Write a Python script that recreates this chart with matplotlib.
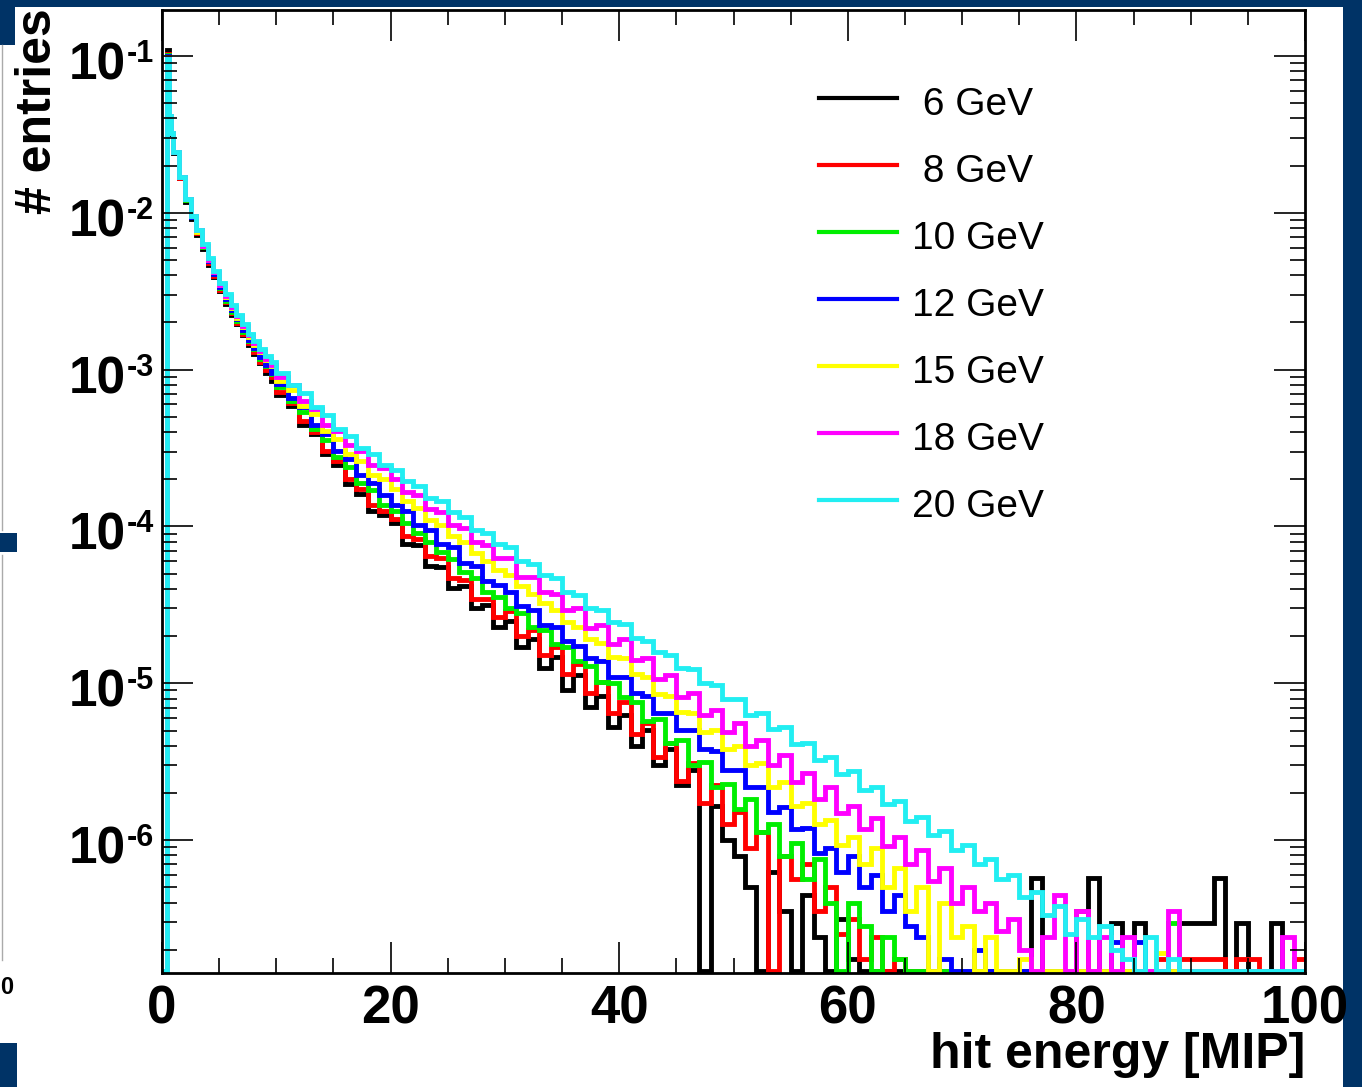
import numpy as np
import matplotlib
matplotlib.use("Agg")
import matplotlib.pyplot as plt
from matplotlib.ticker import LogLocator, MultipleLocator, NullFormatter
from matplotlib.patches import Rectangle

plt.rcParams['font.family'] = ['Liberation Sans', 'DejaVu Sans']

# bin edges (MIP): fine at the start, 1 MIP from 10 on
edges = np.concatenate([[0.0, 0.4, 0.6, 0.8], np.arange(1.0, 10.0, 0.5), np.arange(10.0, 100.5, 1.0)])

labels = [" 6 GeV", " 8 GeV", "10 GeV", "12 GeV", "15 GeV", "18 GeV", "20 GeV"]
colors = ["#000000", "#ff0000", "#00ee00", "#0000ff", "#ffff00", "#ff00ff", "#22eef2"]

# log10(entries) per bin, None = empty bin
log_6gev = [
    None, -0.965, -1.39, -1.50, -1.62, -1.78, -1.93, -2.04, -2.14, -2.23,
    -2.33, -2.41, -2.50, -2.58, -2.65, -2.71, -2.78, -2.84, -2.90, -2.96, -3.02, -3.07,
    -3.16, -3.23, -3.35, -3.41, -3.54, -3.61, -3.73, -3.79, -3.90, -3.93,
    -3.98, -4.11, -4.12, -4.25, -4.26, -4.39, -4.38, -4.52, -4.50, -4.64,
    -4.60, -4.77, -4.72, -4.90, -4.83, -5.04, -4.95, -5.15, -5.08, -5.28,
    -5.20, -5.40, -5.30, -5.52, -5.42, -5.65, -5.55, None, -5.78, -6.00,
    -6.10, -6.30, None, -6.20, -6.45, None, -6.35, -6.62, None, -6.50,
    -6.76, None, None, None, None, None, None, None, None, None,
    None, None, None, None, None, None, -6.24, None, None, None,
    None, -6.24, None, -6.53, None, -6.53, None, None, None, -6.53,
    -6.53, -6.53, -6.24, None, -6.53, None, None, -6.53, None, None,
]
log_8gev = [
    None, -0.985, -1.38, -1.49, -1.61, -1.78, -1.92, -2.03, -2.13, -2.22,
    -2.32, -2.40, -2.49, -2.57, -2.64, -2.70, -2.77, -2.83, -2.89, -2.95, -3.00, -3.05,
    -3.14, -3.21, -3.33, -3.40, -3.52, -3.58, -3.70, -3.76, -3.86, -3.90,
    -3.95, -4.06, -4.08, -4.19, -4.20, -4.33, -4.34, -4.46, -4.46, -4.58,
    -4.54, -4.70, -4.66, -4.82, -4.77, -4.94, -4.88, -5.06, -4.99, -5.19,
    -5.12, -5.32, -5.25, -5.47, -5.38, -5.62, -5.51, -5.76, -5.65, -5.90,
    -5.82, -6.05, -5.95, None, -6.10, -6.25, -6.15, -6.45, -6.30, -6.60,
    -6.50, -6.76, -6.62, None, -6.76, None, None, None, None, None,
    None, None, None, None, None, None, None, None, None, None,
    -6.45, None, None, None, None, None, None, -6.76, None, -6.76,
    -6.76, -6.76, -6.76, None, -6.76, -6.76, None, None, None, -6.76,
]
log_10gev = [
    None, -0.995, -1.38, -1.49, -1.61, -1.77, -1.92, -2.03, -2.12, -2.22,
    -2.31, -2.39, -2.48, -2.56, -2.63, -2.69, -2.76, -2.82, -2.87, -2.93, -2.98, -3.03,
    -3.11, -3.20, -3.27, -3.38, -3.45, -3.56, -3.62, -3.72, -3.77, -3.86,
    -3.90, -3.98, -4.04, -4.10, -4.16, -4.21, -4.29, -4.33, -4.42, -4.45,
    -4.52, -4.55, -4.64, -4.66, -4.75, -4.77, -4.86, -4.89, -4.99, -5.00,
    -5.09, -5.12, -5.24, -5.23, -5.38, -5.36, -5.52, -5.50, -5.66, -5.64,
    -5.80, -5.74, -5.95, -5.90, -6.10, -6.02, -6.25, -6.12, -6.40, None,
    -6.40, -6.55, None, -6.62, -6.76, None, None, None, None, None,
    None, None, None, None, None, None, None, None, None, None,
    None, None, None, None, None, None, None, None, -6.53, None,
    None, None, None, None, None, None, None, None, None, None,
]
log_12gev = [
    None, -1.00, -1.38, -1.49, -1.61, -1.77, -1.91, -2.03, -2.12, -2.21,
    -2.31, -2.39, -2.47, -2.55, -2.62, -2.68, -2.75, -2.81, -2.86, -2.92, -2.97, -3.02,
    -3.09, -3.18, -3.24, -3.35, -3.41, -3.52, -3.57, -3.67, -3.72, -3.80,
    -3.86, -3.90, -3.99, -4.02, -4.11, -4.13, -4.23, -4.25, -4.35, -4.37,
    -4.42, -4.51, -4.53, -4.63, -4.64, -4.73, -4.76, -4.84, -4.86, -4.96,
    -4.96, -5.06, -5.08, -5.19, -5.19, -5.30, -5.30, -5.42, -5.43, -5.55,
    -5.55, -5.66, -5.66, -5.82, -5.79, -5.93, -5.92, -6.08, -6.05, -6.20,
    -6.10, -6.30, -6.22, -6.45, -6.35, -6.55, -6.62, None, -6.76, None,
    None, -6.70, None, None, None, None, None, None, None, None,
    None, None, None, -6.65, None, -6.65, None, None, None, None,
    None, None, None, None, None, None, None, None, None, None,
]
log_15gev = [
    None, -1.005, -1.38, -1.49, -1.61, -1.77, -1.91, -2.02, -2.12, -2.21,
    -2.30, -2.38, -2.46, -2.54, -2.61, -2.67, -2.73, -2.79, -2.84, -2.89, -2.94, -2.98,
    -3.07, -3.13, -3.23, -3.28, -3.39, -3.44, -3.54, -3.58, -3.67, -3.70,
    -3.76, -3.84, -3.88, -3.96, -3.99, -4.06, -4.10, -4.17, -4.22, -4.28,
    -4.31, -4.38, -4.43, -4.49, -4.53, -4.61, -4.64, -4.72, -4.74, -4.83,
    -4.84, -4.94, -4.96, -5.07, -5.08, -5.18, -5.19, -5.31, -5.30, -5.42,
    -5.40, -5.52, -5.51, -5.66, -5.63, -5.78, -5.76, -5.90, -5.87, -6.03,
    -5.98, -6.15, -6.05, -6.30, -6.18, -6.45, -6.30, None, -6.40, -6.62,
    -6.55, None, -6.62, None, None, -6.76, None, None, None, None,
    None, None, None, None, None, None, None, -6.72, None, None,
    None, None, None, None, None, None, None, None, None, None,
]
log_18gev = [
    None, -1.01, -1.38, -1.49, -1.61, -1.77, -1.91, -2.02, -2.11, -2.21,
    -2.30, -2.38, -2.46, -2.53, -2.60, -2.66, -2.72, -2.78, -2.83, -2.88, -2.93, -2.97,
    -3.05, -3.10, -3.20, -3.25, -3.35, -3.39, -3.48, -3.52, -3.61, -3.63,
    -3.70, -3.78, -3.80, -3.89, -3.91, -3.99, -4.01, -4.10, -4.12, -4.20,
    -4.20, -4.32, -4.32, -4.42, -4.43, -4.53, -4.52, -4.65, -4.63, -4.75,
    -4.72, -4.85, -4.84, -4.97, -4.95, -5.09, -5.06, -5.20, -5.17, -5.31,
    -5.25, -5.40, -5.36, -5.52, -5.46, -5.63, -5.57, -5.74, -5.66, -5.83,
    -5.78, -5.93, -5.86, -6.04, -5.98, -6.15, -6.06, -6.26, -6.18, -6.40,
    -6.30, -6.45, -6.40, -6.58, -6.50, -6.70, None, -6.62, -6.35, None,
    -6.45, None, -6.62, None, -6.62, None, None, None, -6.45, None,
    None, None, None, None, None, None, None, None, -6.62, None,
]
log_20gev = [
    None, -1.02, -1.38, -1.49, -1.61, -1.77, -1.91, -2.02, -2.11, -2.20,
    -2.29, -2.37, -2.45, -2.52, -2.59, -2.65, -2.71, -2.77, -2.82, -2.87, -2.91, -2.95,
    -3.02, -3.10, -3.15, -3.24, -3.29, -3.38, -3.42, -3.50, -3.54, -3.61,
    -3.64, -3.71, -3.74, -3.82, -3.84, -3.91, -3.94, -4.02, -4.04, -4.11,
    -4.13, -4.22, -4.24, -4.31, -4.33, -4.42, -4.44, -4.52, -4.53, -4.61,
    -4.62, -4.71, -4.73, -4.80, -4.82, -4.90, -4.91, -5.00, -5.01, -5.10,
    -5.10, -5.20, -5.19, -5.29, -5.28, -5.39, -5.38, -5.49, -5.47, -5.58,
    -5.56, -5.68, -5.66, -5.77, -5.75, -5.88, -5.85, -5.97, -5.94, -6.06,
    -6.03, -6.15, -6.12, -6.25, -6.22, -6.36, -6.33, -6.48, -6.42, -6.60,
    -6.50, -6.62, -6.55, -6.70, -6.76, None, -6.62, None, -6.76, None,
    None, None, None, None, None, None, None, None, None, None,
]
series = [log_6gev, log_8gev, log_10gev, log_12gev, log_15gev, log_18gev, log_20gev]

W, H = 1362, 1087
navy = "#003366"
ymin, ymax = 10 ** -6.847, 10 ** -0.707

fig = plt.figure(figsize=(W / 100, H / 100), dpi=100, facecolor="white")

# slide background bits
for (x, y, w, h) in [(0, 0, W, 7), (1343, 0, 19, H), (0, 0, 15, 45), (0, 533, 17, 19), (0, 1043, 17, 44)]:
    fig.add_artist(Rectangle((x / W, 1 - (y + h) / H), w / W, h / H, transform=fig.transFigure,
                             color=navy, lw=0, zorder=0))
for (y0, y1) in [(45, 530), (555, 960)]:
    fig.add_artist(plt.Line2D([1.5 / W, 1.5 / W], [1 - y0 / H, 1 - y1 / H], transform=fig.transFigure,
                              color="#aaaaaa", lw=1))
fig.text(0, 1 - 994 / H, "0", fontsize=17, fontweight="bold", va="baseline", ha="left")

ax = fig.add_axes([162 / W, 1 - 973 / H, (1305 - 162) / W, (973 - 10) / H])
ax.set_yscale("log")
ax.set_xlim(0, 100)
ax.set_ylim(ymin, ymax)

floor = ymin * 1.035  # empty bins drawn along the bottom, like ROOT
for logs, col in zip(series, colors):
    vals = 10 ** np.array(logs, dtype=float)
    vals = np.where(np.isnan(vals), floor, vals)
    ax.stairs(vals, edges, baseline=None, color=col, lw=3.5)

# ticks, ROOT style
xt = np.arange(0, 101, 20)
ax.set_xticks(xt)
ax.set_xticklabels([f"{t:g}" for t in xt], fontsize=38, fontweight="bold")
ax.xaxis.set_minor_locator(MultipleLocator(5))
yexp = np.arange(-6, 0)
ax.set_yticks(10.0 ** yexp)
ax.set_yticklabels([])
ax.yaxis.set_minor_locator(LogLocator(base=10, subs=np.arange(2, 10), numticks=30))
ax.yaxis.set_minor_formatter(NullFormatter())
ax.tick_params(which="both", direction="in", top=True, right=True, width=1.2, color="black")
ax.tick_params(which="major", length=22)
ax.tick_params(axis="x", which="major", pad=8)
ax.tick_params(which="minor", length=11)
for s in ax.spines.values():
    s.set_linewidth(2)

# y labels as "10" with a raised exponent
for e in yexp:
    ax.annotate("10", xy=(0, 10.0 ** e), xycoords=("axes fraction", "data"),
                xytext=(-36, -10), textcoords="offset pixels", ha="right", va="center",
                fontsize=37, fontweight="bold")
    ax.annotate(f"-{abs(e)}", xy=(0, 10.0 ** e), xycoords=("axes fraction", "data"),
                xytext=(-35, 2), textcoords="offset pixels", ha="left", va="center",
                fontsize=22, fontweight="bold")

fig.text(38 / W, 1 - 8 / H, "# entries", rotation=90, ha="center", va="top",
         fontsize=36, fontweight="bold")
fig.text(1305 / W, 1 - 1068 / H, "hit energy [MIP]", ha="right", va="baseline",
         fontsize=36, fontweight="bold")

# legend drawn by hand (no frame)
rows = [98, 165, 232, 299, 366, 433, 500]
for lab, col, ry in zip(labels, colors, rows):
    fig.add_artist(plt.Line2D([819 / W, 897 / W], [1 - ry / H, 1 - ry / H], transform=fig.transFigure,
                              color=col, lw=3))
    fig.text(912 / W, 1 - (ry + 17) / H, lab, fontsize=28, va="baseline", ha="left")

fig.savefig("out.png", dpi=100, facecolor=fig.get_facecolor())
